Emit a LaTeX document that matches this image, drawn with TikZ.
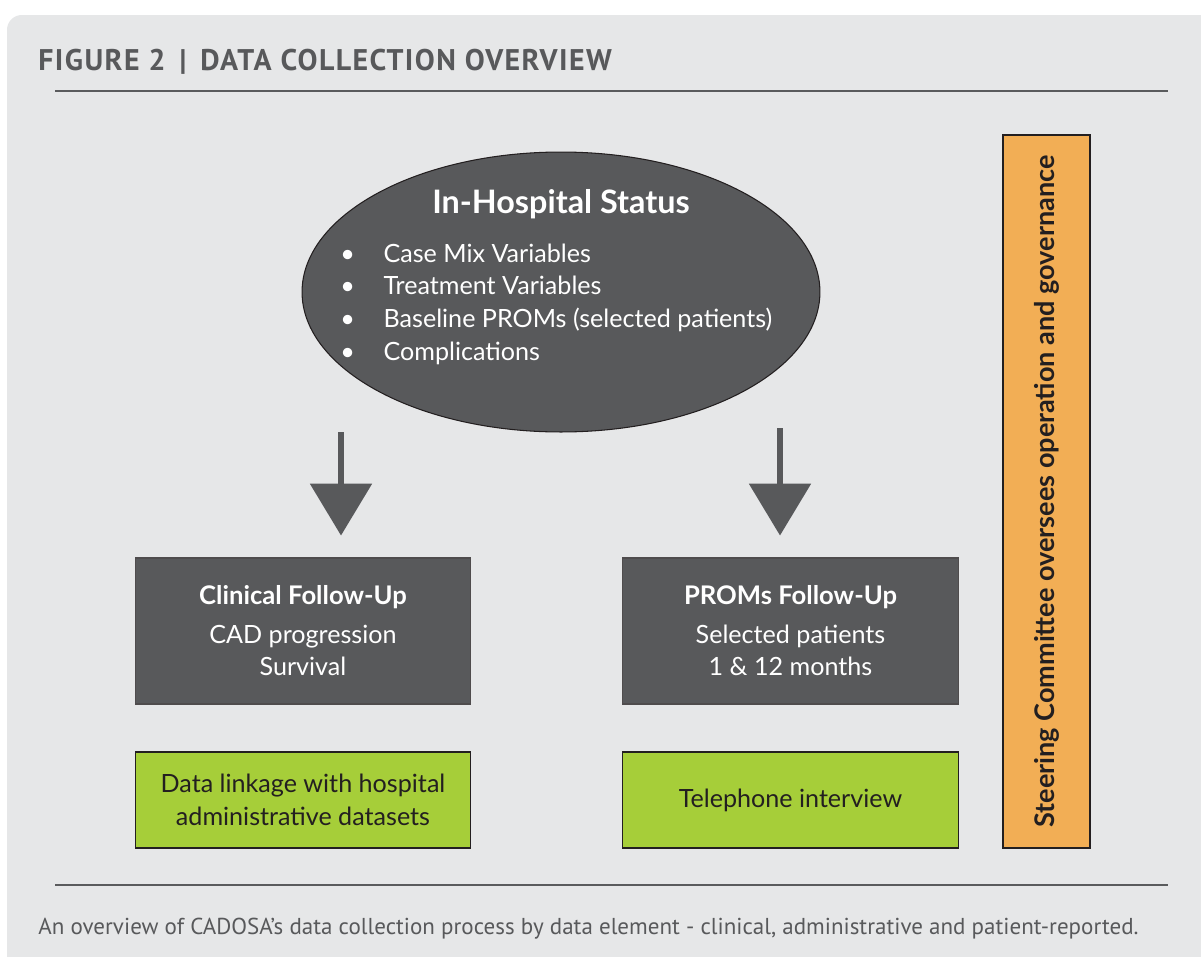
\documentclass[tikz,border=0pt]{standalone}
\usepackage{fontspec}
\setmainfont{Lato}
\newfontfamily\headfont{PT Sans}
\usetikzlibrary{shapes.geometric,arrows.meta,positioning}

\definecolor{panelgray}{HTML}{E6E7E8}
\definecolor{boxgray}{HTML}{58595B}
\definecolor{rulegray}{HTML}{5A5B5D}
\definecolor{limegreen}{HTML}{A6CE39}
\definecolor{paleorange}{HTML}{F2AE55}
\definecolor{inkdark}{HTML}{231F20}

\newcommand{\boxhead}{\bfseries\fontsize{14.6}{17}\selectfont}

\begin{document}
\begin{tikzpicture}[x=0.02cm,y=-0.02cm,
    darkbox/.style={draw=inkdark!80,line width=0.6pt,fill=boxgray,text=white,
      minimum width=6.72cm,minimum height=2.92cm,align=center,
      font=\fontsize{14.3}{18.7}\selectfont},
    greenbox/.style={draw=inkdark,line width=0.6pt,fill=limegreen,text=inkdark,
      minimum width=6.72cm,minimum height=1.92cm,align=center,
      font=\fontsize{14.3}{18.7}\selectfont},
    bigarrow/.style={draw=boxgray,line width=3.4pt,shorten >=12.5pt,
      -{Triangle[length=29.5pt,width=34.6pt]}}]
    \useasboundingbox (0,0) rectangle (1201,957);
    \fill[white] (0,0) rectangle (1201,957);
    \fill[panelgray,rounded corners=8.5pt] (7,15) rectangle (1240,1000);

    % heading and rules
    \node[anchor=base west,inner sep=0,text=boxgray,
      font=\headfont\bfseries\fontsize{17}{20}\selectfont\addfontfeature{LetterSpace=4.8}] (title) at (38,70)
      {FIGURE 2 \,|\, DATA COLLECTION OVERVIEW};
    \draw[rulegray,line width=0.85pt] (55,91) -- (1168,91);
    \draw[rulegray,line width=0.85pt] (55,885) -- (1168,885);
    \node[anchor=base west,inner sep=0,text=boxgray,
      font=\headfont\fontsize{13.1}{15}\selectfont] (caption) at (38,934)
      {An overview of CADOSA’s data collection process by data element - clinical, administrative and patient-reported.};

    % in-hospital data
    \node[ellipse,draw=inkdark,line width=0.6pt,fill=boxgray,
      minimum width=10.36cm,minimum height=5.6cm] (status) at (561,292) {};
    \node[anchor=base,inner sep=0,text=white,
      font=\bfseries\fontsize{18.4}{22}\selectfont] (statushead) at (561,213)
      {In-Hospital Status};
    \node[anchor=base west,inner sep=0,text=white,
      font=\fontsize{14.3}{18.7}\selectfont] (statuslist) at (340,262)
      {\begin{tabular}[t]{@{}l@{}l@{}}
        \makebox[24.6pt][l]{\textbullet} & Case Mix Variables\\
        \makebox[24.6pt][l]{\textbullet} & Treatment Variables\\
        \makebox[24.6pt][l]{\textbullet} & Baseline PROMs (selected patients)\\
        \makebox[24.6pt][l]{\textbullet} & Complications
      \end{tabular}};

    % follow-up streams
    \node[darkbox] (clinical) at (303,631)
      {{\boxhead Clinical Follow-Up}\\[3pt] CAD progression\\ Survival};
    \node[darkbox] (proms) at (790.5,631)
      {{\boxhead PROMs Follow-Up}\\[3pt] Selected patients\\ 1 \& 12 months};
    \node[greenbox] (linkage) at (303,800)
      {Data linkage with hospital\\ administrative datasets};
    \node[greenbox] (phone) at (790.5,800) {Telephone interview};

    \node[draw=inkdark,line width=0.8pt,fill=paleorange,rotate=90,
      minimum width=14.26cm,minimum height=1.74cm,text=inkdark,
      font=\bfseries\fontsize{15.4}{18}\selectfont] (steering) at (1046.5,491.5)
      {Steering Committee oversees operation and governance};

    \coordinate (clinfrom) at (341,432);
    \coordinate (promfrom) at (780,428);
    \draw[bigarrow] (clinfrom) -- (clinfrom |- clinical.north);
    \draw[bigarrow] (promfrom) -- (promfrom |- proms.north);
\end{tikzpicture}
\end{document}
